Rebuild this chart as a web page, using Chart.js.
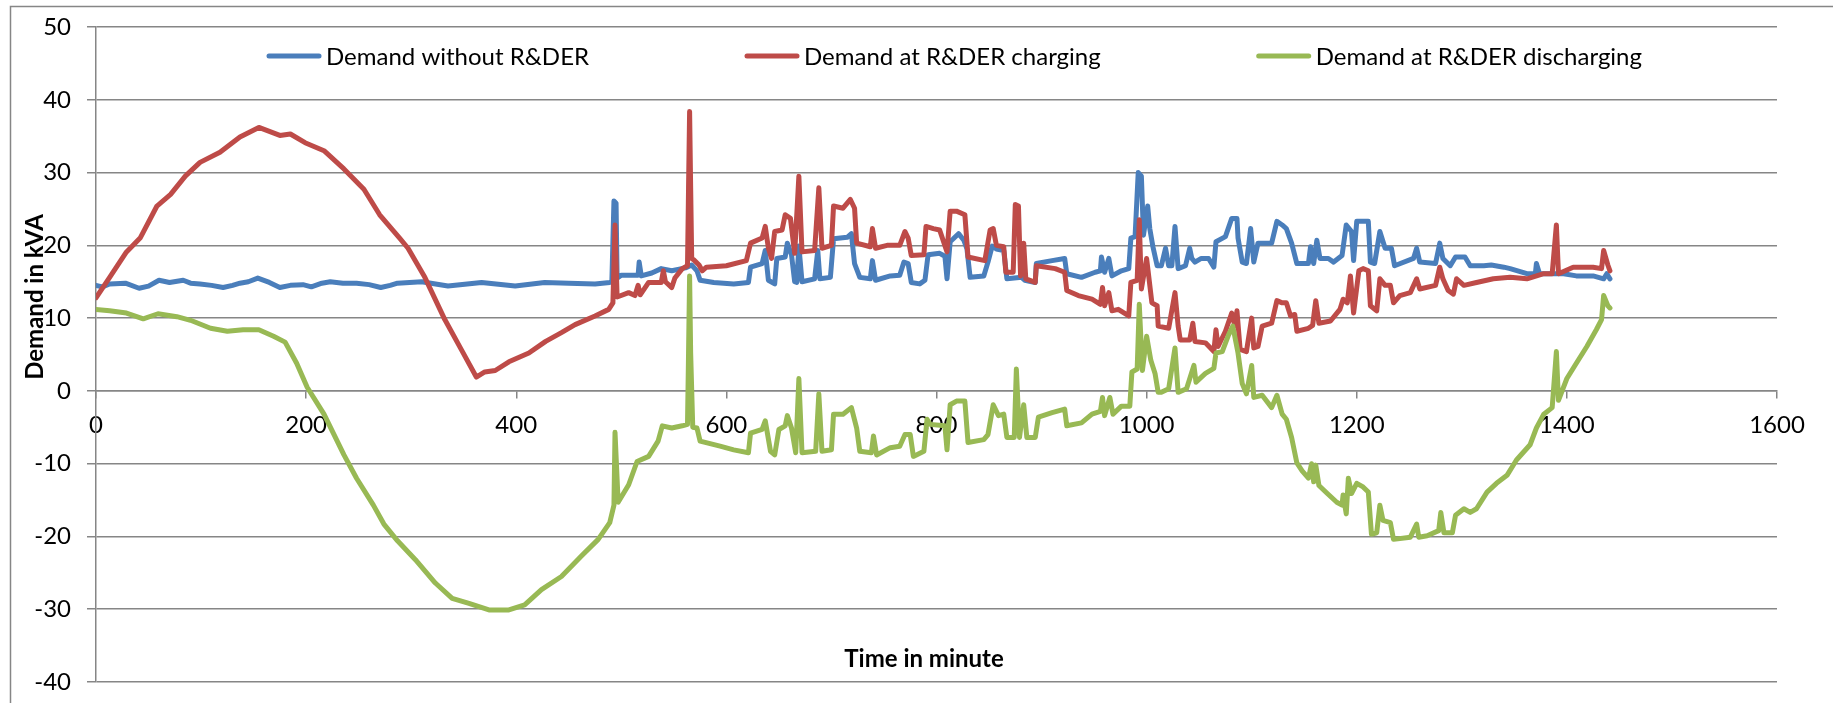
<!DOCTYPE html>
<html>
<head>
<meta charset="utf-8">
<script src="https://cdn.jsdelivr.net/npm/chart.js@4/dist/chart.umd.min.js"></script>
<style>
  html, body { margin: 0; padding: 0; background: #fff; }
  #wrap { width: 1833px; height: 703px; }
</style>
</head>
<body>
<div id="wrap"><canvas id="myChart" width="1833" height="703"></canvas></div>
<script>
const seriesLabels = [
    "Demand without R&DER",
    "Demand at R&DER charging",
    "Demand at R&DER discharging",
];
const xTickValues = [0, 200, 400, 600, 800, 1000, 1200, 1400, 1600];
const yTickValues = [-40, -30, -20, -10, 0, 10, 20, 30, 40, 50];

// [minute, kVA]
const demandWithout = [
    [0,14.5],[6,14.3],[13,14.7],[28,14.8],[41,14.1],[50,14.4],[60,15.2],[70,14.9],[83,15.2],[90,14.8],
    [99,14.7],[110,14.5],[121,14.2],[130,14.5],[137,14.8],[145,15.0],[154,15.5],[165,14.9],[175,14.2],[185,14.5],
    [197,14.6],[205,14.3],[215,14.8],[223,15.0],[235,14.8],[248,14.8],[260,14.6],[271,14.2],[280,14.5],[287,14.8],
    [310,15.0],[335,14.4],[367,14.9],[399,14.4],[427,14.9],[450,14.8],[475,14.7],[489,14.9],[491,15.0],[493,26.1],
    [495,25.8],[496,15.5],[500,15.9],[513,15.9],[516,15.9],[517,17.7],[519,15.8],[529,16.2],[538,16.8],[548,16.5],
    [561,16.9],[567,17.3],[572,16.5],[575,15.2],[588,14.9],[607,14.7],[621,14.9],[623,17.0],[634,17.5],[637,19.3],
    [640,15.2],[646,14.7],[648,18.2],[656,18.4],[658,20.3],[662,18.7],[665,15.0],[667,14.9],[669,19.9],[672,15.0],
    [684,15.4],[687,19.3],[689,15.4],[699,15.6],[702,20.9],[715,21.1],[719,21.6],[722,17.5],[727,15.6],[737,15.4],
    [739,17.9],[742,15.2],[756,15.8],[765,15.9],[769,17.7],[773,17.5],[776,14.9],[784,14.7],[789,15.2],[792,18.7],
    [803,18.9],[808,18.5],[810,15.4],[813,20.5],[816,20.9],[821,21.6],[826,20.7],[829,19.5],[832,15.6],[845,15.8],
    [849,17.7],[853,19.9],[857,19.5],[864,19.3],[867,15.4],[881,15.6],[884,15.2],[894,14.9],[895,17.5],[910,17.9],
    [922,18.2],[924,16.1],[938,15.6],[951,16.3],[956,16.5],[957,18.4],[960,16.3],[964,18.2],[967,15.8],[976,16.5],
    [983,16.8],[985,21.0],[989,21.2],[992,30.0],[995,29.5],[997,21.4],[1001,25.4],[1003,22.3],[1006,19.8],[1010,17.2],
    [1014,17.2],[1018,19.6],[1021,17.2],[1024,17.2],[1027,22.6],[1030,16.8],[1037,17.2],[1041,19.6],[1043,18.2],[1046,17.7],
    [1052,18.2],[1059,18.2],[1064,17.0],[1066,20.5],[1075,21.2],[1081,23.7],[1086,23.7],[1087,21.0],[1091,17.7],[1095,17.5],
    [1099,22.3],[1102,17.7],[1106,20.3],[1119,20.3],[1124,23.3],[1129,22.8],[1133,22.3],[1138,20.3],[1143,17.5],[1154,17.5],
    [1156,19.8],[1159,17.5],[1162,20.7],[1165,18.2],[1173,18.2],[1178,17.7],[1186,18.6],[1190,22.8],[1195,21.9],[1197,17.9],
    [1200,23.3],[1211,23.3],[1213,17.7],[1217,17.5],[1222,21.9],[1227,19.6],[1233,19.6],[1236,17.2],[1254,18.2],[1257,19.6],
    [1260,17.7],[1275,17.5],[1279,20.3],[1282,18.2],[1289,17.2],[1294,18.4],[1303,18.4],[1308,17.2],[1321,17.2],[1328,17.3],
    [1340,17.0],[1346,16.8],[1362,16.1],[1370,16.1],[1371,17.5],[1374,16.1],[1384,16.1],[1397,16.1],[1409,15.8],[1425,15.8],
    [1435,15.4],[1438,16.1],[1441,15.4],
];

const demandCharging = [
    [0,12.8],[13,15.6],[29,19.1],[42,21.0],[58,25.4],[71,27.0],[85,29.5],[99,31.4],[118,32.8],[137,34.9],
    [155,36.2],[175,35.1],[185,35.3],[199,34.1],[217,33.0],[236,30.5],[255,27.7],[270,24.2],[289,21.0],[297,19.6],
    [313,15.6],[332,9.8],[348,5.6],[362,1.9],[370,2.6],[380,2.8],[393,4.0],[412,5.2],[428,6.8],[443,8.0],
    [456,9.1],[475,10.3],[488,11.2],[492,12.1],[494,22.8],[496,12.9],[507,13.5],[513,13.1],[516,14.5],[518,13.2],
    [526,14.9],[538,14.9],[540,16.5],[542,15.0],[548,14.2],[551,15.5],[558,16.8],[563,17.2],[564,27.9],[565,38.4],
    [566,27.9],[567,18.2],[569,18.0],[574,17.3],[577,16.5],[581,17.0],[600,17.2],[619,17.9],[623,20.3],[634,21.0],
    [637,22.6],[640,19.6],[643,18.2],[646,21.9],[653,22.1],[656,24.2],[661,23.7],[665,18.9],[669,29.5],[672,19.1],
    [684,19.3],[688,27.9],[691,19.6],[700,20.0],[702,25.4],[711,25.1],[718,26.3],[722,25.1],[724,20.3],[737,19.8],
    [739,22.3],[742,19.6],[753,20.0],[765,20.0],[770,21.9],[773,21.0],[776,18.6],[788,18.7],[790,22.6],[797,22.3],
    [803,22.1],[810,19.1],[813,24.7],[819,24.7],[827,24.2],[830,18.4],[846,17.9],[851,22.1],[854,22.3],[857,20.0],
    [864,19.8],[866,16.3],[873,16.3],[875,25.6],[878,25.4],[880,15.8],[883,20.3],[885,15.4],[894,14.9],[895,17.2],
    [913,16.8],[922,16.3],[924,13.8],[935,13.1],[948,12.6],[956,11.9],[958,14.2],[960,11.7],[964,13.5],[967,11.0],
    [973,11.2],[983,10.3],[985,14.9],[991,15.2],[993,23.5],[995,14.0],[1000,18.2],[1005,12.1],[1010,11.7],[1011,8.9],
    [1021,8.6],[1027,13.5],[1030,8.9],[1032,7.0],[1041,7.0],[1044,9.3],[1046,6.8],[1056,6.6],[1064,5.4],[1066,8.4],
    [1068,6.1],[1075,8.2],[1081,10.7],[1084,8.9],[1086,11.0],[1089,5.7],[1095,5.4],[1100,10.0],[1102,5.9],[1106,6.1],
    [1110,8.9],[1119,9.3],[1124,12.4],[1129,12.1],[1133,12.1],[1137,10.3],[1141,10.5],[1143,8.2],[1154,8.6],[1158,9.0],
    [1161,12.4],[1164,9.3],[1175,9.6],[1184,11.2],[1187,12.6],[1191,12.1],[1194,15.8],[1197,10.7],[1202,16.5],[1206,16.8],
    [1211,16.5],[1213,11.7],[1219,11.0],[1222,15.4],[1227,14.5],[1232,14.5],[1235,12.1],[1241,13.1],[1251,13.5],[1257,15.4],
    [1260,14.0],[1275,14.5],[1279,17.0],[1282,15.4],[1287,13.8],[1292,13.3],[1295,15.4],[1302,14.5],[1314,14.9],[1330,15.4],
    [1346,15.6],[1362,15.4],[1378,16.1],[1386,16.1],[1390,22.8],[1392,16.1],[1406,17.0],[1425,17.0],[1433,16.8],[1435,19.3],
    [1439,17.3],[1441,16.5],
];

const demandDischarging = [
    [0,11.2],[13,11.0],[29,10.7],[45,9.9],[59,10.6],[77,10.2],[90,9.7],[109,8.6],[125,8.2],[140,8.4],
    [155,8.4],[169,7.5],[180,6.7],[191,3.8],[201,0.5],[217,-3.2],[236,-8.8],[248,-12.0],[264,-15.7],[274,-18.3],
    [287,-20.6],[304,-23.2],[323,-26.4],[339,-28.5],[355,-29.2],[374,-30.1],[393,-30.1],[408,-29.4],[424,-27.3],[443,-25.5],
    [462,-22.7],[478,-20.4],[489,-18.1],[493,-15.7],[494,-5.7],[497,-15.3],[507,-12.9],[515,-9.7],[526,-9.0],[535,-6.9],
    [539,-4.8],[548,-5.1],[558,-4.8],[563,-4.6],[564,5.2],[565,15.8],[566,5.2],[568,-5.0],[572,-5.1],[575,-6.9],
    [594,-7.6],[607,-8.1],[621,-8.5],[623,-5.8],[634,-5.3],[637,-4.1],[642,-8.3],[646,-8.8],[650,-5.3],[656,-4.8],
    [658,-3.4],[662,-5.1],[666,-8.5],[669,1.7],[672,-8.5],[685,-8.3],[688,-0.4],[691,-8.3],[700,-8.1],[702,-3.2],
    [711,-3.2],[719,-2.3],[724,-5.1],[727,-8.3],[738,-8.5],[740,-6.2],[743,-8.8],[756,-7.8],[765,-7.6],[770,-6.0],
    [775,-6.0],[778,-9.0],[788,-8.3],[791,-3.9],[794,-4.6],[808,-4.8],[810,-8.1],[813,-1.9],[819,-1.4],[827,-1.4],
    [830,-7.1],[845,-6.7],[849,-6.0],[854,-1.9],[859,-3.4],[864,-3.2],[867,-6.4],[874,-6.4],[876,3.0],[879,-6.4],
    [883,-1.9],[886,-6.4],[894,-6.4],[897,-3.6],[910,-3.0],[922,-2.5],[924,-4.8],[938,-4.4],[948,-3.2],[956,-2.8],
    [958,-0.9],[960,-3.4],[965,-0.9],[968,-3.2],[976,-2.1],[984,-2.1],[986,2.6],[991,3.0],[993,11.9],[996,2.8],
    [1000,7.5],[1004,4.2],[1008,2.4],[1011,-0.2],[1014,-0.2],[1021,0.3],[1027,5.9],[1030,-0.2],[1038,0.3],[1045,3.5],
    [1047,1.2],[1056,2.4],[1064,3.1],[1066,5.2],[1072,5.4],[1078,7.7],[1082,8.9],[1087,5.2],[1091,1.0],[1095,-0.4],
    [1100,3.5],[1102,-0.9],[1110,-0.6],[1119,-2.3],[1124,-0.6],[1129,-3.2],[1133,-3.9],[1138,-6.4],[1143,-9.9],[1148,-11.0],
    [1154,-12.0],[1157,-10.0],[1159,-12.5],[1161,-10.2],[1164,-13.0],[1172,-14.1],[1181,-15.3],[1186,-15.7],[1187,-14.3],[1190,-16.9],
    [1192,-12.0],[1195,-14.1],[1200,-12.7],[1206,-13.2],[1211,-13.9],[1214,-19.7],[1219,-19.5],[1222,-15.7],[1225,-17.8],[1232,-18.1],
    [1235,-20.4],[1251,-20.1],[1257,-18.3],[1259,-20.1],[1267,-19.9],[1278,-19.2],[1280,-16.7],[1283,-19.5],[1291,-19.5],[1294,-17.1],
    [1302,-16.2],[1308,-16.7],[1314,-16.2],[1324,-13.9],[1333,-12.7],[1343,-11.6],[1352,-9.5],[1365,-7.4],[1371,-5.1],[1378,-3.2],
    [1386,-2.3],[1390,5.4],[1392,-1.3],[1400,1.7],[1409,3.8],[1419,6.1],[1428,8.4],[1433,9.8],[1435,13.1],[1439,11.7],
    [1441,11.4],
];

const seriesColors = ["#4A7EBB", "#BE4B48", "#98B954"];
const gridGray = "#868686";
const fontFamily = "Lato, 'Open Sans', sans-serif";

function toPoints(rows) {
    return rows.map(function (r) { return { x: r[0], y: r[1] }; });
}

function lineDataset(i, rows, order) {
    return {
        label: seriesLabels[i],
        data: toPoints(rows),
        borderColor: seriesColors[i],
        backgroundColor: seriesColors[i],
        borderWidth: 5,
        pointRadius: 0,
        tension: 0,
        borderJoinStyle: "round",
        borderCapStyle: "round",
        fill: false,
        order: order,
    };
}

// excel style frame, axis titles and the legend sitting inside the plot
const excelLook = {
    id: "excelLook",
    beforeDraw(chart) {
        const ctx = chart.ctx;
        ctx.save();
        ctx.fillStyle = "#fff";
        ctx.fillRect(0, 0, chart.width, chart.height);
        ctx.strokeStyle = gridGray;
        ctx.lineWidth = 1.5;
        ctx.strokeRect(10.5, 6.5, chart.width + 40, chart.height + 40);
        ctx.restore();
    },
    afterDraw(chart) {
        const ctx = chart.ctx;
        ctx.save();
        ctx.fillStyle = "#000";
        ctx.textBaseline = "middle";
        ctx.textAlign = "center";
        ctx.font = "bold 24px " + fontFamily;
        ctx.fillText("Time in minute", 924, 659);
        ctx.translate(35, 297);
        ctx.rotate(-Math.PI / 2);
        ctx.fillText("Demand in kVA", 0, 0);
        ctx.restore();

        // legend
        ctx.save();
        ctx.font = "24px " + fontFamily;
        ctx.textBaseline = "middle";
        ctx.textAlign = "left";
        const sample = 56, gapText = 4, gapItem = 155, y = 56;
        const items = chart.data.datasets.map(function (d) {
            return { label: d.label, color: d.borderColor, w: ctx.measureText(d.label).width };
        });
        let total = 0;
        items.forEach(function (it, i) { total += sample + gapText + it.w + (i ? gapItem : 0); });
        let x = 954 - total / 2;
        items.forEach(function (it) {
            ctx.strokeStyle = it.color;
            ctx.lineWidth = 5;
            ctx.lineCap = "round";
            ctx.beginPath();
            ctx.moveTo(x + 3, y);
            ctx.lineTo(x + sample - 3, y);
            ctx.stroke();
            ctx.fillStyle = "#000";
            ctx.fillText(it.label, x + sample + gapText, y + 1);
            x += sample + gapText + it.w + gapItem;
        });
        ctx.restore();
    },
};

const config = {
    type: "line",
    data: {
        datasets: [
            lineDataset(0, demandWithout, 2),
            lineDataset(1, demandCharging, 1),
            lineDataset(2, demandDischarging, 0),
        ],
    },
    options: {
        responsive: false,
        animation: false,
        devicePixelRatio: 1,
        layout: { padding: { left: 0, top: 27, right: 56, bottom: 21 } },
        plugins: {
            legend: { display: false },
            tooltip: { enabled: false },
        },
        scales: {
            x: {
                type: "linear",
                position: { y: 0 },
                min: 0,
                max: 1600,
                afterBuildTicks: function (scale) {
                    scale.ticks = xTickValues.map(function (v) { return { value: v }; });
                },
                grid: { drawOnChartArea: false, color: gridGray, lineWidth: 1.5, tickLength: 7 },
                border: { display: true, color: gridGray, width: 1.5 },
                ticks: {
                    color: "#000",
                    padding: 13,
                    maxRotation: 0,
                    autoSkip: false,
                    font: { family: fontFamily, size: 24 },
                    callback: function (v) { return String(v); },
                },
            },
            y: {
                min: -40,
                max: 50,
                afterBuildTicks: function (scale) {
                    scale.ticks = yTickValues.map(function (v) { return { value: v }; });
                },
                afterFit: function (scale) {
                    scale.width = 96;
                    // keep the plot edges where the picture has them
                    scale.paddingTop = 0;
                    scale.paddingBottom = 0;
                },
                grid: { color: gridGray, lineWidth: 1.5, tickLength: 9 },
                border: { display: true, color: gridGray, width: 1.5 },
                ticks: {
                    color: "#000",
                    padding: 16,
                    font: { family: fontFamily, size: 24 },
                },
            },
        },
    },
    plugins: [excelLook],
};

new Chart(document.getElementById("myChart"), config);
</script>
</body>
</html>
